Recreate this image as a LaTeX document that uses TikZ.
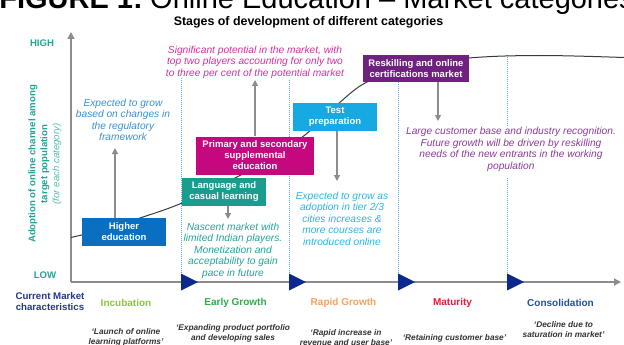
\documentclass[tikz,border=0pt]{standalone}
\usepackage{fontspec}
\setmainfont{Liberation Sans}
\usetikzlibrary{arrows.meta}

\definecolor{axisgray}{HTML}{8C8C8C}
\definecolor{curvegray}{HTML}{3A3A3A}
\definecolor{dotblue}{HTML}{5AA9E0}
\definecolor{triblue}{HTML}{0C2A8C}
\definecolor{axisteal}{HTML}{1FA595}
\definecolor{axistealsoft}{HTML}{4DBDB0}
\definecolor{heblue}{HTML}{0A6FC1}
\definecolor{langteal}{HTML}{1A9D8F}
\definecolor{primmag}{HTML}{C5087E}
\definecolor{testcyan}{HTML}{17A9E1}
\definecolor{reskpurple}{HTML}{6F2180}
\definecolor{noteblue}{HTML}{3B8FD6}
\definecolor{notepink}{HTML}{D6309F}
\definecolor{noteteal}{HTML}{21A596}
\definecolor{notecyan}{HTML}{29B5E8}
\definecolor{notepurple}{HTML}{8A3C97}
\definecolor{incgreen}{HTML}{8CC63F}
\definecolor{earlygreen}{HTML}{2EAA4A}
\definecolor{rapidorange}{HTML}{F5A25D}
\definecolor{matred}{HTML}{E0203A}
\definecolor{consblue}{HTML}{23509F}
\definecolor{navy}{HTML}{26358F}
\definecolor{quotegray}{HTML}{333333}

\tikzset{
  catbox/.style={fill=#1, text=white, align=center, inner sep=0pt,
    font=\fontsize{9.5}{11}\selectfont\bfseries},
  note/.style={text=#1, align=center, inner sep=1pt,
    font=\fontsize{10.2}{11.5}\selectfont\itshape},
  garrow/.style={draw=axisgray, line width=1.2pt, -{Triangle[width=6pt,length=6pt]}},
  axisline/.style={draw=axisgray, line width=1.3pt, -{Triangle[width=7pt,length=7pt]}},
  dotline/.style={draw=dotblue, line width=0.8pt, dash pattern=on 0.8pt off 1.2pt},
  stagename/.style={text=#1, font=\fontsize{10}{12}\selectfont\bfseries},
  quote/.style={text=quotegray, align=center,
    font=\fontsize{8.3}{10}\selectfont\bfseries\itshape},
  levellabel/.style={text=axisteal, font=\fontsize{9.6}{11}\selectfont\bfseries}
}

\begin{document}
\begin{tikzpicture}[x=1pt,y=-1pt]
\useasboundingbox (0,0) rectangle (624,345);

% heading
\node[anchor=base east, inner sep=0pt, font=\fontsize{29}{32}\selectfont\bfseries] (fig) at (143,9) {FIGURE 1:};
\node[anchor=base west, inner sep=0pt, font=\fontsize{29}{32}\selectfont] (figtitle) at (150,9) {Online Education – Market categories};
\node[font=\fontsize{12.4}{14}\selectfont\bfseries, inner sep=0pt] (sub) at (308.5,22.5) {Stages of development of different categories};

% stage boundaries
\draw[dotline] (181.5,78) -- (181.5,282);
\draw[dotline] (289,80) -- (289,282);
\draw[dotline] (398.5,82) -- (398.5,282);
\draw[dotline] (507,55) -- (507,126);
\draw[dotline] (507,178) -- (507,282);

% axes
\coordinate (origin) at (71,282);
\coordinate (ytip) at (71,32);
\coordinate (xtip) at (621,282);
\draw[axisline] (origin) -- (ytip);
\draw[axisline] (origin) -- (xtip);

% stage markers on the time axis
\foreach \sx in {181,289,398,507}{
  \fill[triblue] (\sx,273.5) -- (\sx+17,282) -- (\sx,290.5) -- cycle;
}

% adoption curve
\draw[curvegray, line width=1pt] plot[smooth, tension=0.6] coordinates {
  (71,237.5) (105,229) (140,218) (182,203) (237,177) (270,157)
  (305,135) (338,104) (367,82) (410,67) (469,58) (540,55.5) (624,57.5)};

% category boxes
\node[catbox=heblue, minimum width=84pt, minimum height=28pt] (he) at (124,232) {Higher\\education};
\node[catbox=langteal, minimum width=84pt, minimum height=28pt] (lang) at (224,192) {Language and\\casual learning};
\node[catbox=primmag, minimum width=118pt, minimum height=38pt] (prim) at (255,155.5) {Primary and secondary\\supplemental\\education};
\node[catbox=testcyan, minimum width=84pt, minimum height=28pt] (test) at (335,117) {Test\\preparation};
\node[catbox=reskpurple, minimum width=106pt, minimum height=27pt] (resk) at (416,68.5) {Reskilling and online\\certifications market};

% annotations
\node[note=noteblue] (expL) at (123,120) {Expected to grow\\based on changes in\\the regulatory\\framework};
\node[note=notepink] (sig) at (255,62) {Significant potential in the market, with\\top two players accounting for only two\\to three per cent of the potential market};
\node[note=noteteal] (nasc) at (233,250.5) {Nascent market with\\limited Indian players.\\Monetization and\\acceptability to gain\\pace in future};
\node[note=notecyan] (expR) at (342,218.5) {Expected to grow as\\adoption in tier 2/3\\cities increases \&\\more courses are\\introduced online};
\node[note=notepurple] (large) at (511,149.5) {Large customer base and industry recognition.\\Future growth will be driven by reskilling\\needs of the new entrants in the working\\population};

% arrows from boxes to annotations
\coordinate (tipA) at (115,148);
\coordinate (tipB) at (228,219);
\coordinate (tipC) at (255,80);
\coordinate (tipD) at (337,181);
\coordinate (tipE) at (438,121);
\draw[garrow] (tipA |- he.north) -- (tipA);
\draw[garrow] (tipB |- lang.south) -- (tipB);
\draw[garrow] (tipC |- prim.north) -- (tipC);
\draw[garrow] (tipD |- test.south) -- (tipD);
\draw[garrow] (tipE |- resk.south) -- (tipE);

% vertical axis labels
\node[levellabel] (high) at (42,43.5) {HIGH};
\node[levellabel] (low) at (45,275.5) {LOW};
\node[rotate=90, align=center, inner sep=0pt, text=axisteal] (ylab) at (45,164)
  {\fontsize{9.6}{12.5}\selectfont\bfseries Adoption of online channel among\\
   \fontsize{9.6}{12.5}\selectfont\bfseries target population\\
   \fontsize{9.6}{12.5}\selectfont\itshape\color{axistealsoft}(for each category)};

% market characteristics
\node[align=center, text=navy, font=\fontsize{9.7}{11.5}\selectfont\bfseries] (cmc) at (50,301.5) {Current Market\\characteristics};
\node[stagename=incgreen] (inc) at (126,303) {Incubation};
\node[stagename=earlygreen] (early) at (235.5,303) {Early Growth};
\node[stagename=rapidorange] (rapid) at (343.5,303) {Rapid Growth};
\node[stagename=matred] (mat) at (452.5,303) {Maturity};
\node[stagename=consblue] (cons) at (560.5,303) {Consolidation};

\node[quote] (q1) at (126,337.5) {‘Launch of online\\learning platforms’};
\node[quote] (q2) at (233,333) {‘Expanding product portfolio\\and developing sales};
\node[quote] (q3) at (346,337.5) {‘Rapid increase in\\revenue and user base’};
\node[quote] (q4) at (454.5,338) {‘Retaining customer base’};
\node[quote] (q5) at (563.5,330) {‘Decline due to\\saturation in market’};
\end{tikzpicture}
\end{document}
